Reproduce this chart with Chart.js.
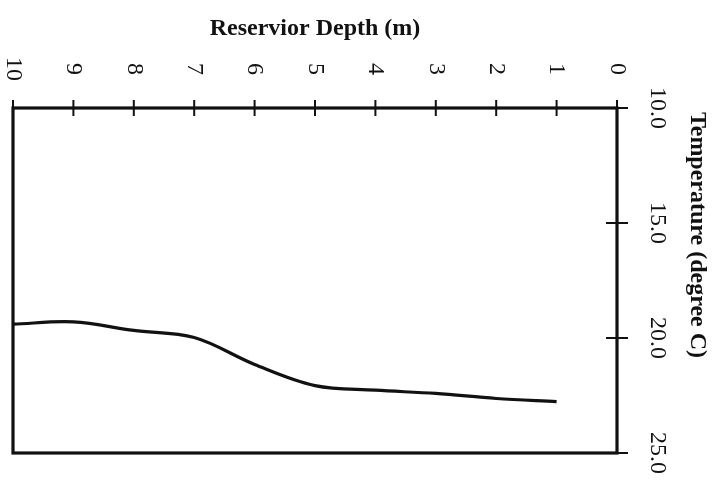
<!DOCTYPE html>
<html>
<head>
<meta charset="utf-8">
<script src="https://cdn.jsdelivr.net/npm/chart.js@4"></script>
<style>
  html, body { margin: 0; padding: 0; background: #fff; }
</style>
</head>
<body>
<canvas id="depthChart" width="725" height="481"></canvas>
<script>
const depths = [10, 9, 8, 7, 6, 5, 4, 3, 2, 1];
const temps = [19.4, 19.3, 19.67, 19.98, 21.15, 22.07, 22.27, 22.41, 22.63, 22.77];
const depthTicks = [10, 9, 8, 7, 6, 5, 4, 3, 2, 1, 0];
const tempTicks = [10, 15, 20, 25];
const depthTitle = 'Reservior Depth (m)';
const tempTitle = 'Temperature (degree C)';

const INK = '#111';
const SERIF = '"Liberation Serif", "DejaVu Serif", serif';

// frame, crossing tick marks and the sideways labels (text turned 90deg clockwise)
const sidewaysAxes = {
  id: 'sidewaysAxes',
  afterDraw(chart) {
    const { ctx, chartArea: a, scales: { x, y } } = chart;
    ctx.save();
    ctx.strokeStyle = INK;
    ctx.lineWidth = 3.2;
    ctx.strokeRect(a.left, a.top, a.right - a.left, a.bottom - a.top);

    ctx.lineWidth = 2;
    ctx.beginPath();
    depthTicks.forEach(d => {
      const px = x.getPixelForValue(d);
      ctx.moveTo(px, a.top - 8);
      ctx.lineTo(px, a.top + 8);
    });
    tempTicks.forEach(t => {
      const py = y.getPixelForValue(t);
      ctx.moveTo(a.right - 11, py);
      ctx.lineTo(a.right + 11, py);
    });
    ctx.stroke();

    ctx.fillStyle = INK;
    ctx.textAlign = 'center';
    ctx.textBaseline = 'middle';
    ctx.font = '24px ' + SERIF;
    depthTicks.forEach(d => {
      ctx.save();
      ctx.translate(x.getPixelForValue(d), a.top - 39);
      ctx.rotate(Math.PI / 2);
      ctx.fillText(String(d), 0, 0);
      ctx.restore();
    });
    tempTicks.forEach(t => {
      ctx.save();
      ctx.translate(a.right + 40, y.getPixelForValue(t));
      ctx.rotate(Math.PI / 2);
      ctx.fillText(t.toFixed(1), 0, 0);
      ctx.restore();
    });

    ctx.font = 'bold 24px ' + SERIF;
    ctx.save();
    ctx.translate(a.right + 80, a.top + 127);
    ctx.rotate(Math.PI / 2);
    ctx.fillText(tempTitle, 0, 0);
    ctx.restore();
    ctx.restore();
  }
};

const points = depths.map((d, i) => ({ x: d, y: temps[i] }));

new Chart(document.getElementById('depthChart'), {
  type: 'line',
  data: {
    datasets: [{
      data: points,
      borderColor: INK,
      borderWidth: 3.2,
      pointRadius: 0,
      tension: 0.35,
      fill: false
    }]
  },
  plugins: [sidewaysAxes],
  options: {
    responsive: false,
    animation: false,
    layout: { padding: { left: 13, right: 0, top: 0, bottom: 28 } },
    plugins: { legend: { display: false }, tooltip: { enabled: false } },
    scales: {
      x: {
        type: 'linear',
        position: 'top',
        min: 0,
        max: 10,
        reverse: true,
        grid: { display: false },
        border: { display: false },
        ticks: { display: false },
        title: {
          display: true,
          text: depthTitle,
          color: INK,
          font: { family: SERIF, size: 24, weight: 'bold' },
          padding: { top: 14, bottom: 0 }
        },
        afterFit: s => { s.height = 108; }
      },
      y: {
        type: 'linear',
        position: 'right',
        min: 10,
        max: 25,
        reverse: true,
        grid: { display: false },
        border: { display: false },
        ticks: { display: false },
        afterFit: s => { s.width = 108; }
      }
    }
  }
});
</script>
</body>
</html>
